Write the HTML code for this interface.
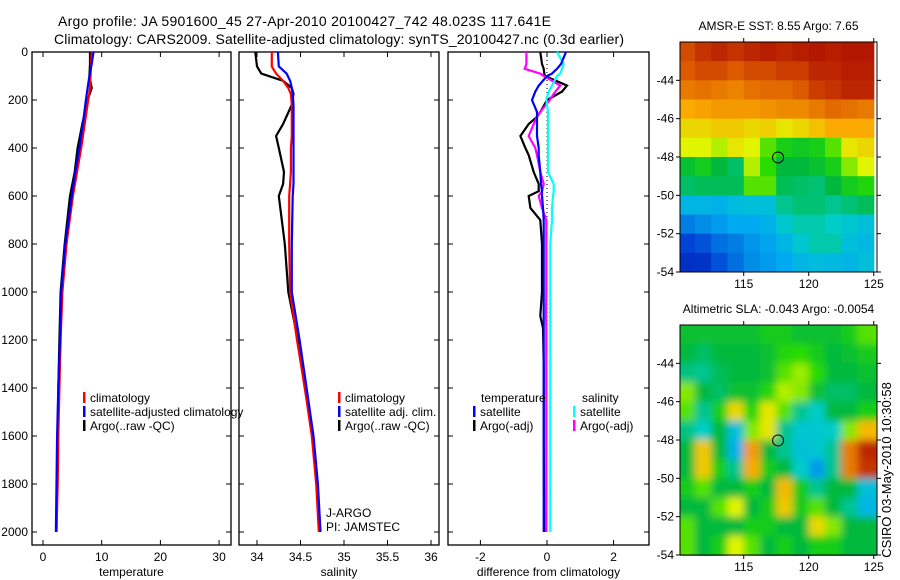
<!DOCTYPE html>
<html><head><meta charset="utf-8"><style>
html,body{margin:0;padding:0;background:#fff;}
svg{display:block;font-family:"Liberation Sans",sans-serif;}
text{fill:#000;}
</style></head><body>
<svg id="fig" width="900" height="580" viewBox="0 0 900 580" xmlns="http://www.w3.org/2000/svg">
<defs>
<clipPath id="clipSST"><rect x="680" y="42" width="197" height="230"/></clipPath>
<clipPath id="clipSLA"><rect x="680" y="325" width="197" height="231"/></clipPath>
<filter id="blur" x="-5%" y="-5%" width="110%" height="110%"><feGaussianBlur stdDeviation="4"/></filter>
</defs>
<text x="58" y="26" font-size="14" textLength="493">Argo profile: JA 5901600_45 27-Apr-2010 20100427_742 48.023S 117.641E</text>
<text x="54" y="44" font-size="14" textLength="570">Climatology: CARS2009. Satellite-adjusted climatology: synTS_20100427.nc (0.3d earlier)</text>
<g id="layer"></g>
<text transform="translate(891,470) rotate(-90)" text-anchor="middle" font-size="13">CSIRO 03-May-2010 10:30:58</text>
</svg>
<script>
// ---- profile data (depth in m) ----
const tempDepth = [0,50,100,150,200,300,400,500,600,800,1000,1200,1400,1600,1800,2000];
const tempClim  = [8.3,8.2,8.1,8.0,7.7,7.1,6.5,5.8,5.1,4.0,3.3,3.0,2.8,2.6,2.5,2.3];
const tempSat   = [8.6,8.3,7.9,7.6,7.3,6.8,6.2,5.5,4.9,3.8,3.1,2.9,2.6,2.4,2.3,2.2];
const tempArgo  = [8.0,8.0,7.9,8.3,7.6,6.7,5.9,5.4,4.6,3.7,3.0,2.8,2.6,2.5,2.4,2.3];
const salDepth  = [0,60,90,120,150,175,220,300,350,400,500,550,600,800,1000,1200,1400,1600,1800,2000];
const salClim   = [34.17,34.17,34.22,34.30,34.36,34.39,34.40,34.40,34.40,34.39,34.39,34.38,34.37,34.37,34.38,34.46,34.55,34.63,34.68,34.71];
const salSat    = [34.24,34.25,34.34,34.38,34.40,34.41,34.42,34.42,34.42,34.42,34.42,34.42,34.41,34.40,34.40,34.49,34.57,34.65,34.70,34.73];
const salArgo   = [33.98,34.00,34.05,34.30,34.40,34.42,34.40,34.30,34.22,34.25,34.31,34.30,34.25,34.32,34.36,34.47,34.55,34.64,34.69,34.72];
const diffDepth = [0,50,70,90,100,140,165,200,250,270,300,350,400,430,500,550,580,600,650,700,800,1000,1100,1150,1300,1600,2000];
const dTempArgo = [-0.2,-0.15,-0.1,-0.08,-0.06,0.6,0.45,0.0,-0.2,-0.3,-0.55,-0.8,-0.65,-0.55,-0.4,-0.25,-0.25,-0.55,-0.5,-0.2,-0.15,-0.15,-0.2,-0.12,-0.1,-0.1,-0.08];
const dSalArgo  = [-0.62,-0.62,-0.67,-0.2,-0.1,0.4,0.25,0.08,-0.2,-0.3,-0.4,-0.55,-0.35,-0.3,-0.2,-0.1,-0.15,-0.25,-0.15,-0.02,-0.02,-0.02,-0.03,-0.02,-0.02,-0.02,-0.02];
const dTempSat  = [0.57,0.42,0.3,0.15,0.0,-0.25,-0.35,-0.45,-0.3,-0.3,-0.3,-0.3,-0.25,-0.25,-0.2,-0.18,-0.15,-0.15,-0.12,-0.1,-0.1,-0.1,-0.1,-0.1,-0.1,-0.1,-0.1];
const dSalSat   = [0.3,0.5,0.45,0.4,0.3,0.15,0.05,-0.02,0.03,0.03,0.03,0.03,0.03,0.03,0.03,0.2,0.2,0.18,0.15,0.15,0.1,0.1,0.1,0.1,0.1,0.1,0.1];
const depthTicks = [0,200,400,600,800,1000,1200,1400,1600,1800,2000];
const tempTicks = [0,10,20,30];
const salTicks = [34,34.5,35,35.5,36];
const diffTicks = [-2,0,2];
// ---- map data (rows lat -42..-54, cols lon 110..125) ----
const sstGrid = [
[0.90,0.93,0.95,0.93,0.95,0.96,0.95,0.96,0.97,0.96,0.97,0.97],
[0.88,0.90,0.90,0.88,0.90,0.90,0.92,0.92,0.95,0.95,0.96,0.96],
[0.84,0.85,0.84,0.83,0.85,0.86,0.86,0.88,0.92,0.93,0.95,0.95],
[0.78,0.79,0.80,0.80,0.80,0.81,0.82,0.82,0.84,0.86,0.85,0.84],
[0.72,0.72,0.74,0.74,0.72,0.73,0.70,0.72,0.75,0.78,0.78,0.78],
[0.68,0.68,0.66,0.70,0.68,0.62,0.56,0.54,0.56,0.62,0.70,0.72],
[0.52,0.55,0.50,0.47,0.66,0.60,0.50,0.50,0.52,0.56,0.64,0.68],
[0.47,0.48,0.48,0.48,0.62,0.62,0.48,0.47,0.46,0.50,0.55,0.58],
[0.33,0.33,0.32,0.35,0.36,0.36,0.44,0.46,0.46,0.44,0.46,0.48],
[0.24,0.26,0.28,0.30,0.30,0.32,0.38,0.42,0.42,0.40,0.38,0.36],
[0.16,0.18,0.22,0.24,0.27,0.29,0.33,0.38,0.42,0.42,0.36,0.34],
[0.12,0.13,0.18,0.22,0.26,0.28,0.30,0.33,0.35,0.34,0.33,0.36]];
const slaGrid = [
[0.52,0.52,0.52,0.52,0.52,0.55,0.55,0.52,0.52,0.52,0.55,0.62],
[0.50,0.47,0.50,0.50,0.50,0.52,0.58,0.60,0.55,0.50,0.52,0.55],
[0.45,0.44,0.48,0.50,0.50,0.52,0.62,0.65,0.60,0.50,0.50,0.52],
[0.64,0.50,0.47,0.52,0.52,0.58,0.66,0.64,0.52,0.47,0.47,0.50],
[0.62,0.44,0.56,0.72,0.58,0.70,0.62,0.44,0.40,0.50,0.50,0.56],
[0.45,0.40,0.50,0.36,0.64,0.70,0.44,0.38,0.38,0.40,0.64,0.76],
[0.50,0.74,0.50,0.32,0.80,0.50,0.44,0.36,0.38,0.44,0.84,0.95],
[0.50,0.74,0.56,0.44,0.78,0.55,0.50,0.40,0.28,0.44,0.84,0.93],
[0.55,0.62,0.50,0.50,0.56,0.50,0.76,0.55,0.44,0.50,0.50,0.36],
[0.50,0.50,0.62,0.68,0.50,0.55,0.74,0.55,0.62,0.50,0.44,0.33],
[0.62,0.50,0.50,0.50,0.56,0.55,0.50,0.50,0.72,0.64,0.50,0.50],
[0.62,0.50,0.56,0.68,0.62,0.50,0.56,0.50,0.56,0.56,0.50,0.50]];
const mapLatTicksSST = [-44,-46,-48,-50,-52,-54];
const mapLatTicksSLA = [-44,-46,-48,-50,-52,-54];
const mapLonTicks = [115,120,125];
const argoLon = 117.641, argoLat = -48.023;

const NS = "http://www.w3.org/2000/svg";
const layer = document.getElementById('layer');
function mk(tag, attrs, parent){
  const e = document.createElementNS(NS, tag);
  for (const k in attrs) e.setAttribute(k, attrs[k]);
  (parent||layer).appendChild(e);
  return e;
}
const TOP = 52, BOT = 545;
const yD = d => TOP + 0.24*d;

function panel(name, x0, x1, xScale, xticks, xlabel, fmt){
  const g = mk('g', {});
  
  
  const r = mk('rect', {x:x0, y:TOP, width:x1-x0, height:BOT-TOP, fill:'none', stroke:'#000', 'stroke-width':1.3}, g);
  
  
  xticks.forEach(t => {
    const x = xScale(t);
    mk('line', {x1:x, y1:BOT, x2:x, y2:BOT-5, stroke:'#000'}, g);
    mk('line', {x1:x, y1:TOP, x2:x, y2:TOP+5, stroke:'#000'}, g);
    const tx = mk('text', {x:x, y:BOT+16, 'text-anchor':'middle', 'font-size':12}, g);
    tx.textContent = fmt ? fmt(t) : String(t);
    
    
  });
  depthTicks.forEach(d => {
    mk('line', {x1:x0, y1:yD(d), x2:x0+5, y2:yD(d), stroke:'#000'}, g);
    mk('line', {x1:x1, y1:yD(d), x2:x1-5, y2:yD(d), stroke:'#000'}, g);
  });
  const xl = mk('text', {x:(x0+x1)/2, y:576, 'text-anchor':'middle', 'font-size':12}, g);
  xl.textContent = xlabel;
  
  
  return g;
}
function line(g, depths, vals, xScale, color, name){
  const pts = depths.map((d,i)=> xScale(vals[i]).toFixed(1)+','+yD(d).toFixed(1)).join(' ');
  const p = mk('polyline', {points:pts, fill:'none', stroke:color, 'stroke-width':2.2, 'stroke-linejoin':'miter'}, g);
  
  
}
function legend(g, x, y, items){
  items.forEach((it,i)=>{
    const yy = y + i*14;
    mk('rect', {x:x, y:yy-10, width:2.5, height:11, fill:it[0]}, g);
    const t = mk('text', {x:x+7, y:yy, 'font-size':12}, g);
    t.textContent = it[1];
    
    
  });
}

// Panel 1: temperature
const xT = v => 43 + 5.87*v;
const g1 = panel('temperature-panel', 32, 231, xT, tempTicks, 'temperature');
depthTicks.forEach(d=>{
  const t = mk('text', {x:28, y:yD(d)+4, 'text-anchor':'end', 'font-size':12}, g1);
  t.textContent = d;
  
  
});
line(g1, tempDepth, tempArgo, xT, '#000', 'temperature-argo-line');
line(g1, tempDepth, tempClim, xT, '#f00', 'temperature-climatology-line');
line(g1, tempDepth, tempSat, xT, '#00f', 'temperature-satellite-line');
legend(g1, 83, 402, [['#f00','climatology'],['#00f','satellite-adjusted climatology'],['#000','Argo(..raw -QC)']]);

// Panel 2: salinity
const xS = v => 257 + 87*(v-34);
const g2 = panel('salinity-panel', 239, 439, xS, salTicks, 'salinity');
line(g2, salDepth, salArgo, xS, '#000', 'salinity-argo-line');
line(g2, salDepth, salClim, xS, '#f00', 'salinity-climatology-line');
line(g2, salDepth, salSat, xS, '#00f', 'salinity-satellite-line');
legend(g2, 338, 402, [['#f00','climatology'],['#00f','satellite adj. clim.'],['#000','Argo(..raw -QC)']]);
const ja = mk('text', {x:326, y:517, 'font-size':12}, g2); ja.textContent = 'J-ARGO';


const pi = mk('text', {x:326, y:531, 'font-size':12}, g2); pi.textContent = 'PI: JAMSTEC';



// Panel 3: differences
const xDf = v => 547 + 33.3*v;
const g3 = panel('difference-panel', 448, 649, xDf, diffTicks, 'difference from climatology');
mk('line', {x1:xDf(0), y1:TOP, x2:xDf(0), y2:BOT-14, stroke:'#000', 'stroke-dasharray':'1,3'}, g3);
line(g3, diffDepth, dTempArgo, xDf, '#000', 'diff-temperature-argo-line');
line(g3, diffDepth, dSalArgo, xDf, '#f0f', 'diff-salinity-argo-line');
line(g3, diffDepth, dSalSat, xDf, '#0ff', 'diff-salinity-satellite-line');
line(g3, diffDepth, dTempSat, xDf, '#00f', 'diff-temperature-satellite-line');
const lt = mk('text', {x:481, y:402, 'font-size':12}, g3); lt.textContent='temperature';


const ls = mk('text', {x:582, y:402, 'font-size':12}, g3); ls.textContent='salinity';


legend(g3, 473, 416, [['#00f','satellite'],['#000','Argo(-adj)']]);
legend(g3, 573, 416, [['#0ff','satellite'],['#f0f','Argo(-adj)']]);

// Colormap
const stops = [[0,[0,0,140]],[0.15,[0,60,210]],[0.3,[0,170,240]],[0.4,[0,205,200]],[0.5,[0,185,60]],[0.6,[40,220,0]],[0.68,[225,245,0]],[0.78,[250,170,0]],[0.88,[220,90,0]],[1,[165,0,0]]];
function cmap(v){
  v = Math.max(0, Math.min(1, v));
  for (let i=1;i<stops.length;i++){
    if (v <= stops[i][0]){
      const a = stops[i-1], b = stops[i], f = (v-a[0])/(b[0]-a[0]);
      const c = a[1].map((x,j)=>Math.round(x+(b[1][j]-x)*f));
      return 'rgb('+c.join(',')+')';
    }
  }
  return 'rgb(165,0,0)';
}
function map(name, top, grid, latTicks, title, clip, blur){
  const x0=680, x1=877, bot=top+230;
  const lonX = lon => x0 + (lon-110.1)*(x1-x0)/(125.25-110.1);
  const latY = lat => top + (-42 - lat)*(bot-top)/12;
  const g = mk('g', {});
  
  
  const cells = mk('g', {'clip-path':'url(#'+clip+')'}, g);
  const inner = mk('g', blur ? {filter:'url(#blur)'} : {}, cells);
  const rows = grid.length, cols = grid[0].length;
  grid.forEach((row,r)=>row.forEach((v,c)=>{
    const lonA = 110 + c*15/cols, lonB = 110 + (c+1)*15/cols;
    const latA = -42 - r*12/rows, latB = -42 - (r+1)*12/rows;
    let xa = lonX(lonA), xb = lonX(lonB), ya = latY(latA), yb = latY(latB);
    if (blur){ if(c===0) xa-=20; if(c===cols-1) xb+=20; if(r===0) ya-=20; if(r===rows-1) yb+=20; }
    const cell = mk('rect', {x:xa, y:ya, width:xb-xa+0.6, height:yb-ya+0.6, fill:cmap(v)}, inner);
    
    
  }));
  const fr = mk('rect', {x:x0, y:top, width:x1-x0, height:bot-top, fill:'none', stroke:'#000', 'stroke-width':1}, g);
  
  
  latTicks.forEach(l=>{
    const y = latY(l);
    mk('line', {x1:x0-4, y1:y, x2:x0, y2:y, stroke:'#000'}, g);
    mk('line', {x1:x1, y1:y, x2:x1+4, y2:y, stroke:'#000'}, g);
    const t = mk('text', {x:x0-6, y:y+4, 'text-anchor':'end', 'font-size':12}, g);
    t.textContent = l;
    
    
  });
  mapLonTicks.forEach(l=>{
    const x = lonX(l);
    mk('line', {x1:x, y1:bot, x2:x, y2:bot+4, stroke:'#000'}, g);
    mk('line', {x1:x, y1:top-4, x2:x, y2:top, stroke:'#000'}, g);
    const t = mk('text', {x:x, y:bot+16, 'text-anchor':'middle', 'font-size':12}, g);
    t.textContent = l;
    
    
  });
  const c = mk('circle', {cx:lonX(argoLon), cy:latY(argoLat), r:5.5, fill:'none', stroke:'#000', 'stroke-width':1}, g);
  
  
  const tt = mk('text', {x:(x0+x1)/2, y:top-12, 'text-anchor':'middle', 'font-size':12}, g);
  tt.textContent = title;
  
  
}
map('sst-map', 42, sstGrid, mapLatTicksSST, 'AMSR-E SST: 8.55 Argo: 7.65', 'clipSST', false);
map('sla-map', 325, slaGrid, mapLatTicksSLA, 'Altimetric SLA: -0.043 Argo: -0.0054', 'clipSLA', true);
</script>
</body></html>
